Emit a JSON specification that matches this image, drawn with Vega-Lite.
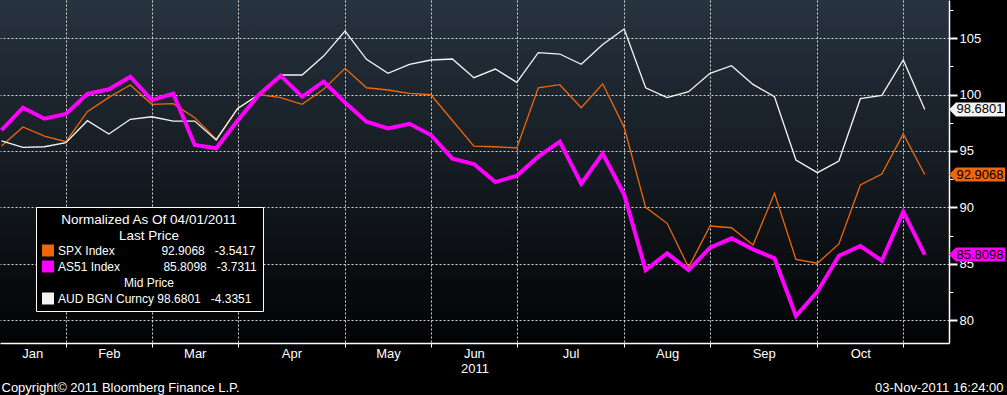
{
  "$schema": "https://vega.github.io/schema/vega-lite/v6.json",
  "width": 949,
  "height": 343,
  "autosize": {"type": "none"},
  "padding": {"left": 0, "top": 0, "right": 58, "bottom": 52},
  "background": "#000000",
  "config": {
    "font": "Liberation Sans, Arial, sans-serif",
    "view": {"stroke": null, "fill": {"gradient": "linear", "x1": 0, "y1": 0, "x2": 0, "y2": 1, "stops": [{"offset": 0, "color": "#27333f"}, {"offset": 1, "color": "#020304"}]}},
    "axis": {"labelColor": "#ffffff", "titleColor": "#ffffff", "labelFontSize": 13, "titleFontSize": 13, "titleFontWeight": "normal", "domainColor": "#ffffff", "tickColor": "#ffffff", "gridColor": "#d6d6d6", "gridDash": [2, 2], "gridWidth": 1, "gridOpacity": 1}
  },
  "datasets": {
    "prices": [
      {"date": "2011-01-07", "SPX": 95.43, "AS51": 96.85, "AUD": 95.90},
      {"date": "2011-01-14", "SPX": 97.12, "AS51": 98.83, "AUD": 95.32},
      {"date": "2011-01-21", "SPX": 96.32, "AS51": 97.86, "AUD": 95.37},
      {"date": "2011-01-28", "SPX": 95.82, "AS51": 98.27, "AUD": 95.73},
      {"date": "2011-02-04", "SPX": 98.48, "AS51": 100.07, "AUD": 97.68},
      {"date": "2011-02-11", "SPX": 99.75, "AS51": 100.46, "AUD": 96.50},
      {"date": "2011-02-18", "SPX": 100.84, "AS51": 101.58, "AUD": 97.80},
      {"date": "2011-02-25", "SPX": 99.13, "AS51": 99.51, "AUD": 98.03},
      {"date": "2011-03-04", "SPX": 99.19, "AS51": 100.07, "AUD": 97.65},
      {"date": "2011-03-11", "SPX": 97.95, "AS51": 95.52, "AUD": 97.65},
      {"date": "2011-03-18", "SPX": 96.03, "AS51": 95.23, "AUD": 95.97},
      {"date": "2011-03-25", "SPX": 98.77, "AS51": 97.70, "AUD": 98.77},
      {"date": "2011-04-01", "SPX": 100.00, "AS51": 100.00, "AUD": 100.00},
      {"date": "2011-04-08", "SPX": 99.72, "AS51": 101.67, "AUD": 101.73},
      {"date": "2011-04-15", "SPX": 99.13, "AS51": 99.80, "AUD": 101.73},
      {"date": "2011-04-22", "SPX": 100.46, "AS51": 101.14, "AUD": 103.41},
      {"date": "2011-04-29", "SPX": 102.32, "AS51": 99.30, "AUD": 105.63},
      {"date": "2011-05-06", "SPX": 100.60, "AS51": 97.59, "AUD": 103.12},
      {"date": "2011-05-13", "SPX": 100.40, "AS51": 97.00, "AUD": 101.88},
      {"date": "2011-05-20", "SPX": 100.10, "AS51": 97.41, "AUD": 102.68},
      {"date": "2011-05-27", "SPX": 99.98, "AS51": 96.41, "AUD": 103.06},
      {"date": "2011-06-03", "SPX": 97.70, "AS51": 94.31, "AUD": 103.15},
      {"date": "2011-06-10", "SPX": 95.43, "AS51": 93.84, "AUD": 101.49},
      {"date": "2011-06-17", "SPX": 95.37, "AS51": 92.24, "AUD": 102.26},
      {"date": "2011-06-24", "SPX": 95.26, "AS51": 92.80, "AUD": 101.08},
      {"date": "2011-07-01", "SPX": 100.60, "AS51": 94.49, "AUD": 103.71},
      {"date": "2011-07-08", "SPX": 100.87, "AS51": 95.82, "AUD": 103.59},
      {"date": "2011-07-15", "SPX": 98.83, "AS51": 92.09, "AUD": 102.68},
      {"date": "2011-07-22", "SPX": 100.95, "AS51": 94.76, "AUD": 104.43},
      {"date": "2011-07-29", "SPX": 97.09, "AS51": 91.13, "AUD": 105.81},
      {"date": "2011-08-05", "SPX": 90.00, "AS51": 84.44, "AUD": 100.60},
      {"date": "2011-08-12", "SPX": 88.58, "AS51": 85.92, "AUD": 99.72},
      {"date": "2011-08-19", "SPX": 84.68, "AS51": 84.44, "AUD": 100.25},
      {"date": "2011-08-26", "SPX": 88.34, "AS51": 86.42, "AUD": 101.88},
      {"date": "2011-09-02", "SPX": 88.19, "AS51": 87.25, "AUD": 102.55},
      {"date": "2011-09-09", "SPX": 86.66, "AS51": 86.27, "AUD": 100.90},
      {"date": "2011-09-16", "SPX": 91.24, "AS51": 85.48, "AUD": 99.80},
      {"date": "2011-09-23", "SPX": 85.39, "AS51": 80.36, "AUD": 94.19},
      {"date": "2011-09-30", "SPX": 85.04, "AS51": 82.52, "AUD": 93.07},
      {"date": "2011-10-07", "SPX": 86.75, "AS51": 85.71, "AUD": 94.10},
      {"date": "2011-10-14", "SPX": 91.98, "AS51": 86.57, "AUD": 99.63},
      {"date": "2011-10-21", "SPX": 92.95, "AS51": 85.27, "AUD": 99.93},
      {"date": "2011-10-28", "SPX": 96.50, "AS51": 89.61, "AUD": 103.06},
      {"date": "2011-11-04", "SPX": 92.9068, "AS51": 85.8098, "AUD": 98.6801}
    ]
  },
  "data": {"name": "prices"},
  "transform": [{"fold": ["SPX", "AS51", "AUD"], "as": ["series", "value"]}],
  "layer": [
    {
      "transform": [{"filter": {"field": "series", "oneOf": ["SPX", "AUD"]}}],
      "mark": {"type": "line", "strokeWidth": 1.3},
      "encoding": {
        "x": {
          "field": "date", "type": "temporal",
          "scale": {"type": "utc", "domain": [
            {"year": 2011, "month": 1, "date": 6, "hours": 12, "minutes": 15, "utc": true},
            {"year": 2011, "month": 11, "date": 11, "hours": 21, "minutes": 36, "utc": true}
          ]},
          "axis": {
            "orient": "bottom",
            "values": [
              {"year": 2011, "month": 1, "date": 28, "utc": true},
              {"year": 2011, "month": 2, "date": 25, "utc": true},
              {"year": 2011, "month": 3, "date": 25, "utc": true},
              {"year": 2011, "month": 4, "date": 29, "utc": true},
              {"year": 2011, "month": 5, "date": 27, "utc": true},
              {"year": 2011, "month": 6, "date": 24, "utc": true},
              {"year": 2011, "month": 7, "date": 29, "utc": true},
              {"year": 2011, "month": 8, "date": 26, "utc": true},
              {"year": 2011, "month": 9, "date": 30, "utc": true},
              {"year": 2011, "month": 10, "date": 28, "utc": true}
            ],
            "grid": true, "labels": false, "ticks": true, "tickSize": 4, "domain": true, "domainWidth": 1.5,
            "title": "Copyright© 2011 Bloomberg Finance L.P.", "titleX": 1, "titleY": 44, "titleAlign": "left", "titleAnchor": "start", "titleBaseline": "middle"
          }
        },
        "y": {
          "field": "value", "type": "quantitative",
          "scale": {"domain": [77.97, 108.38], "nice": false, "zero": false},
          "axis": {"orient": "right", "values": [80, 85, 90, 95, 100, 105], "grid": true, "tickSize": 8, "tickWidth": 2, "labelPadding": 2, "domainWidth": 1.5, "title": null}
        },
        "color": {
          "field": "series", "type": "nominal",
          "scale": {"domain": ["SPX", "AS51", "Mid", "AUD"], "range": ["#f0660a", "#ff00ff", "rgba(0,0,0,0)", "#f4f4f4"]},
          "legend": {
            "orient": "none", "legendX": 36, "legendY": 207,
            "title": ["Normalized As Of 04/01/2011", "Last Price"],
            "titleColor": "#ffffff", "titleFontSize": 13.5, "titleFontWeight": "normal", "titleAnchor": "middle", "titleAlign": "center", "titleLineHeight": 16, "titlePadding": 2,
            "fillColor": "#000000", "strokeColor": "#ffffff", "padding": 6, "cornerRadius": 0,
            "symbolType": "square", "symbolSize": 144, "symbolStrokeWidth": 0, "symbolOpacity": 1,
            "labelColor": "#ffffff", "labelFontSize": 12, "labelOffset": 4, "rowPadding": 4, "labelLimit": 400,
            "labelExpr": "datum.label == 'SPX' ? 'SPX Index\u00a0\u00a0\u00a0\u00a0\u00a0\u00a0\u00a0\u00a0\u00a0\u00a0\u00a0\u00a0\u00a0\u00a092.9068\u00a0\u00a0\u00a0-3.5417' : datum.label == 'AS51' ? 'AS51 Index\u00a0\u00a0\u00a0\u00a0\u00a0\u00a0\u00a0\u00a0\u00a0\u00a0\u00a0\u00a0\u00a085.8098\u00a0\u00a0\u00a0-3.7311' : datum.label == 'Mid' ? 'Mid Price' : 'AUD BGN Curncy\u00a098.6801\u00a0\u00a0\u00a0-4.3351'",
            "encode": {
              "symbols": {"update": {"fill": {"scale": "color", "field": "value"}, "strokeWidth": {"value": 0}}},
              "labels": {"update": {"dx": {"signal": "datum.value == 'Mid' ? 66 : 0"}}}
            }
          }
        }
      }
    },
    {
      "transform": [{"filter": {"field": "series", "equal": "AS51"}}],
      "mark": {"type": "line", "strokeWidth": 4},
      "encoding": {
        "x": {
          "field": "date", "type": "temporal",
          "axis": {
            "orient": "bottom",
            "values": [
              {"year": 2011, "month": 1, "date": 17, "utc": true},
              {"year": 2011, "month": 2, "date": 11, "utc": true},
              {"year": 2011, "month": 3, "date": 11, "utc": true},
              {"year": 2011, "month": 4, "date": 11, "hours": 12, "utc": true},
              {"year": 2011, "month": 5, "date": 13, "utc": true},
              {"year": 2011, "month": 6, "date": 10, "utc": true},
              {"year": 2011, "month": 7, "date": 11, "hours": 12, "utc": true},
              {"year": 2011, "month": 8, "date": 12, "utc": true},
              {"year": 2011, "month": 9, "date": 12, "hours": 12, "utc": true},
              {"year": 2011, "month": 10, "date": 14, "utc": true}
            ],
            "labelExpr": "utcFormat(datum.value, '%b')",
            "grid": false, "ticks": false, "domain": false, "labelPadding": 4, "labelFlush": false, "labelOverlap": false,
            "title": "2011", "titlePadding": 2
          }
        },
        "y": {
          "field": "value", "type": "quantitative",
          "axis": {
            "orient": "right", "values": [82.5, 87.5, 92.5, 97.5, 102.5, 107.5], "grid": false, "labels": false, "domain": false, "tickSize": 4, "tickWidth": 1,
            "title": "03-Nov-2011 16:24:00", "titleAngle": 0, "titleX": 54, "titleY": 387, "titleAlign": "right", "titleBaseline": "middle"
          }
        },
        "color": {"field": "series", "type": "nominal"}
      }
    },
    {
      "transform": [{"filter": {"field": "date", "gte": {"year": 2011, "month": 11, "date": 1, "utc": true}}}],
      "mark": {"type": "point", "shape": "M0,0L1,-1L8,-1L8,1L1,1Z", "filled": true, "size": 196, "opacity": 1, "strokeWidth": 0},
      "encoding": {
        "x": {"value": "width"},
        "y": {"field": "value", "type": "quantitative", "axis": null},
        "color": {"field": "series", "type": "nominal"}
      }
    },
    {
      "transform": [{"filter": {"field": "date", "gte": {"year": 2011, "month": 11, "date": 1, "utc": true}}}],
      "mark": {"type": "text", "color": "#000000", "fontSize": 13, "align": "center", "baseline": "middle", "dx": 31},
      "encoding": {
        "x": {"value": "width"},
        "y": {"field": "value", "type": "quantitative", "axis": null},
        "text": {"field": "value", "type": "quantitative", "format": ".4f"}
      }
    }
  ],
  "resolve": {"axis": {"x": "independent", "y": "independent"}}
}
